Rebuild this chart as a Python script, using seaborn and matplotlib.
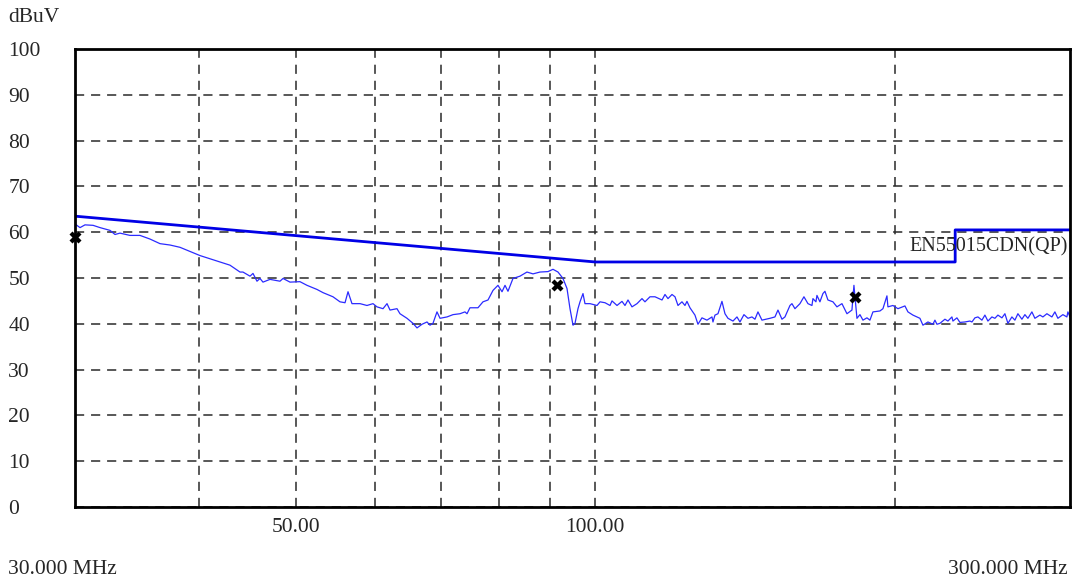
import numpy as np
import pandas as pd
import matplotlib
matplotlib.use("Agg")
import matplotlib.pyplot as plt
import matplotlib.ticker as mticker
import seaborn as sns

# measured trace (MHz, dBuV)
trace_freq = [
    30.0, 30.35, 30.70, 31.28, 31.79, 32.53, 32.91, 33.29, 34.07, 34.87,
    35.69, 36.52, 37.38, 38.25, 39.15, 40.06, 41.00, 41.96, 42.94, 43.95,
    44.25, 44.98, 45.29, 45.71, 46.03, 46.35, 47.11, 48.21, 48.55, 49.34,
    50.49, 51.32, 52.52, 53.26, 54.50, 55.39, 56.04, 56.43, 56.95, 58.02,
    58.96, 59.79, 60.34, 61.19, 61.76, 62.19, 63.20, 63.64, 64.68, 65.59,
    66.20, 66.97, 67.75, 68.22, 68.69, 69.33, 69.82, 70.96, 71.95, 73.12,
    73.97, 74.32, 74.83, 76.23, 77.12, 78.02, 78.93, 79.84, 80.59, 81.15,
    81.71, 82.66, 84.01, 85.38, 86.58, 87.99, 89.64, 90.68, 91.74, 92.80,
    93.67, 94.32, 94.98, 95.42, 96.08, 96.53, 97.20, 97.65, 98.79, 100.40,
    101.10, 102.28, 103.47, 103.95, 105.16, 106.38, 107.12, 107.87, 108.87, 110.14,
    111.42, 112.19, 113.50, 114.82, 116.70, 117.51, 118.33, 119.43, 120.26, 121.10,
    122.22, 123.07, 123.64, 124.50, 125.95, 126.83, 128.01, 129.50, 131.01, 131.31,
    131.92, 132.84, 134.07, 135.01, 135.95, 137.53, 138.81, 139.77, 141.07, 142.39,
    143.71, 144.71, 145.72, 147.07, 149.82, 151.56, 152.62, 154.04, 155.11, 156.92,
    157.64, 158.74, 160.59, 162.08, 163.59, 165.11, 165.49, 166.64, 167.03, 168.19,
    169.36, 170.15, 171.33, 173.33, 174.94, 176.98, 179.04, 181.12, 181.96, 183.23,
    184.51, 185.79, 187.52, 188.82, 190.14, 193.24, 194.59, 196.40, 196.85, 199.14,
    201.46, 204.75, 206.18, 208.58, 210.52, 211.98, 213.46, 215.94, 218.45, 219.47,
    220.49, 222.02, 224.61, 226.17, 228.27, 228.80, 230.93, 232.54, 235.24, 237.98,
    239.09, 240.75, 242.43, 244.68, 246.38, 248.10, 250.41, 252.15, 253.90, 256.27,
    258.05, 259.85, 262.26, 264.09, 265.93, 268.40, 270.27, 272.15, 274.68, 276.59,
    279.81, 281.76, 284.38, 287.69, 289.69, 291.71, 295.10, 297.85, 298.54, 300.0,
]
trace_level = [
    61.8, 61.0, 61.6, 61.5, 61.0, 60.4, 59.5, 59.8, 59.3, 59.3,
    58.5, 57.5, 57.2, 56.7, 55.8, 54.9, 54.2, 53.5, 52.8, 51.3,
    51.3, 50.4, 51.0, 49.3, 49.9, 49.1, 49.7, 49.3, 49.9, 49.1,
    49.2, 48.4, 47.5, 46.8, 45.9, 44.8, 44.6, 47.0, 44.4, 44.4,
    44.0, 44.4, 43.7, 43.3, 44.4, 43.0, 43.3, 42.2, 41.2, 40.1,
    39.1, 39.9, 40.4, 39.7, 40.1, 42.6, 41.2, 41.5, 42.0, 42.2,
    42.6, 42.2, 43.5, 43.5, 44.8, 45.2, 47.3, 48.4, 47.0, 48.4,
    47.1, 49.9, 50.4, 51.3, 50.9, 51.3, 51.4, 51.9, 51.3, 49.9,
    47.7, 43.3, 39.7, 40.1, 43.3, 44.8, 46.6, 44.4, 44.4, 44.0,
    44.8, 44.6, 44.0, 45.0, 44.0, 44.9, 44.0, 45.2, 43.7, 44.4,
    45.5, 44.8, 45.9, 45.9, 45.2, 46.4, 45.5, 46.4, 45.9, 44.0,
    44.8, 44.0, 44.9, 43.5, 41.9, 39.9, 41.3, 40.8, 41.5, 40.4,
    41.9, 42.2, 44.9, 42.2, 41.2, 40.6, 41.5, 40.4, 42.0, 41.2,
    41.5, 41.0, 42.6, 40.8, 41.2, 41.5, 43.0, 41.0, 41.5, 44.0,
    44.4, 43.3, 44.4, 45.9, 44.4, 44.0, 45.5, 44.8, 46.2, 44.8,
    46.6, 47.1, 45.2, 44.8, 43.7, 44.4, 42.2, 43.0, 48.4, 41.2,
    42.0, 40.8, 41.3, 40.8, 42.6, 42.8, 43.3, 46.1, 43.7, 44.0,
    43.3, 43.9, 42.6, 41.9, 41.5, 41.2, 39.7, 40.4, 39.9, 40.8,
    39.9, 40.1, 41.0, 40.6, 41.5, 40.6, 41.3, 40.3, 40.4, 40.6,
    40.4, 41.3, 41.5, 40.8, 41.9, 40.6, 41.5, 41.2, 41.9, 41.3,
    42.2, 40.1, 41.5, 40.8, 42.2, 41.0, 42.0, 41.2, 42.6, 41.2,
    41.9, 41.5, 42.2, 41.5, 42.6, 41.2, 42.0, 41.5, 42.6, 41.5,
]

# EN55015 CDN (QP) limit
limit_freq = [30, 100, 230, 230, 300]
limit_level = [63.5, 53.5, 53.5, 60.5, 60.5]

# peak markers
peak_freq = [30.0, 91.5, 182.4]
peak_level = [58.9, 48.4, 45.9]

grid_freq = [40, 50, 60, 70, 80, 90, 100, 200]
grid_labels = ["", "50.00", "", "", "", "", "100.00", ""]

sns.set_style("white")
plt.rcParams["font.family"] = ["Liberation Serif", "DejaVu Serif"]

trace = pd.DataFrame({"freq": trace_freq, "level": trace_level})
limit = pd.DataFrame({"freq": limit_freq, "level": limit_level})
peaks = pd.DataFrame({"freq": peak_freq, "level": peak_level})

fig = plt.figure(figsize=(10.8, 5.88), dpi=100)
ax = fig.add_axes([75 / 1080, 1 - 507 / 588, 995 / 1080, 458 / 588])

sns.lineplot(data=trace, x="freq", y="level", ax=ax, estimator=None, sort=False,
             color="#2b2bff", linewidth=0.9, zorder=3)
sns.lineplot(data=limit, x="freq", y="level", ax=ax, estimator=None, sort=False,
             color="#0000e6", linewidth=2.0, zorder=4)
sns.scatterplot(data=peaks, x="freq", y="level", ax=ax, marker="X", s=75,
                color="black", linewidth=0, zorder=6, clip_on=False)

ax.set_xscale("log")
ax.set_xlim(30, 300)
ax.set_ylim(0, 100)
ax.xaxis.set_major_locator(mticker.FixedLocator(grid_freq))
ax.xaxis.set_major_formatter(mticker.FixedFormatter(grid_labels))
ax.xaxis.set_minor_locator(mticker.NullLocator())
ax.set_yticks(range(0, 101, 10))

ax.grid(True, which="major", color="#2a2a2a", linestyle=(0, (6, 4.5)), linewidth=1.1)
for s in ax.spines.values():
    s.set_linewidth(2.0)
    s.set_color("black")
    s.set_zorder(5)

ax.tick_params(axis="x", direction="in", length=5, width=1, pad=8, labelsize=15.5)
ax.tick_params(axis="y", direction="in", length=5, width=1, pad=48, labelsize=15.5)
for lbl in ax.get_yticklabels():
    lbl.set_horizontalalignment("left")
ax.set_xlabel("")
ax.set_ylabel("")

fig.text(8 / 1080, 1 - 17 / 588, "dBuV", fontsize=15.5, ha="left", va="center")
fig.text(8 / 1080, 1 - 570 / 588, "30.000 MHz", fontsize=15.5, ha="left", va="center")
fig.text(1068 / 1080, 1 - 570 / 588, "300.000 MHz", fontsize=15.5, ha="right", va="center")
ax.text(0.998, 56.8, "EN55015CDN(QP)", transform=ax.get_yaxis_transform(),
        fontsize=14.5, ha="right", va="center", zorder=7)

fig.savefig("out.png", dpi=100)
